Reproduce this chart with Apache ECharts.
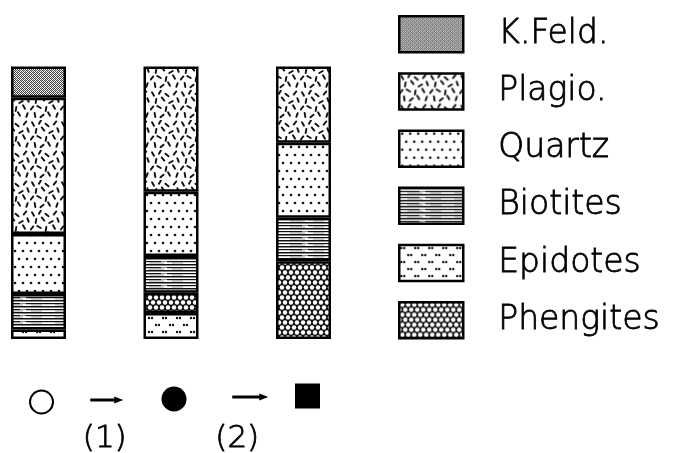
<!DOCTYPE html>
<html>
<head>
<meta charset="utf-8">
<script src="https://cdn.jsdelivr.net/npm/echarts@6/dist/echarts.min.js"></script>
<style>
  html, body { margin: 0; padding: 0; background: #fff; }
  #chart { width: 681px; height: 453px; }
</style>
</head>
<body>
<div id="chart"></div>
<script>
// Three samples along the metamorphic path: ○ → (1) → ● → (2) → ■
const categories = ['○', '●', '■'];
const stepLabels = ['(1)', '(2)'];

// Modal composition, percent of each column (stacked from the bottom)
const epidotes  = [3.5, 9.5, null];
const phengites = [null, 7.5, 28.5];
const biotites  = [13, 13.5, 16];
const quartz    = [22, 23.5, 27.5];
const plagio    = [50, 46, 28];
const kfeld     = [11.5, null, null];

const legendOrder = ['K.Feld.', 'Plagio.', 'Quartz', 'Biotites', 'Epidotes', 'Phengites'];

const FONT = "'DejaVu Sans ExtraLight', 'DejaVu Sans', sans-serif";

// ---------- hatch textures ----------
function tile(w, h, draw) {
  const c = document.createElement('canvas');
  c.width = w; c.height = h;
  const g = c.getContext('2d');
  g.fillStyle = '#fff';
  g.fillRect(0, 0, w, h);
  draw(g);
  return { image: c, repeat: 'repeat' };
}

// fine grey stipple
const texKFeld = tile(4, 4, g => {
  g.fillStyle = '#444';
  [[0,0],[2,0],[1,1],[3,1],[0,2],[2,2],[1,3],[3,3]].forEach(p => g.fillRect(p[0], p[1], 1, 1));
  g.fillStyle = '#bbb';
  g.fillRect(1, 0, 1, 1); g.fillRect(3, 2, 1, 1);
});

// short dashes in many directions
const texPlagio = tile(30, 30, g => {
  const dashes = [
    [3,4,60],[10,2,120],[17,5,40],[25,3,130],[6,11,100],[13,9,50],[21,12,150],[28,10,70],
    [2,18,130],[9,17,30],[16,19,100],[24,17,60],[5,25,80],[12,26,140],[19,24,60],[27,25,110]
  ];
  g.strokeStyle = '#111';
  g.lineWidth = 1.9;
  g.lineCap = 'round';
  dashes.forEach(([x, y, a]) => {
    const r = a * Math.PI / 180, dx = Math.cos(r) * 2, dy = Math.sin(r) * 2;
    g.beginPath(); g.moveTo(x - dx, y - dy); g.lineTo(x + dx, y + dy); g.stroke();
  });
});

// sparse staggered dots
const texQuartz = tile(16, 16, g => {
  g.fillStyle = '#111';
  [[3,3],[11,3],[7,11],[15,11],[-1,11]].forEach(([x, y]) => { g.beginPath(); g.arc(x, y, 1.3, 0, 7); g.fill(); });
});

// dense horizontal streaks
const texBiotites = tile(47, 6, g => {
  g.fillStyle = '#111';
  g.fillRect(0, 0, 47, 1.5);
  g.fillRect(0, 3, 20, 1.2);
  g.fillRect(26, 3, 21, 1.2);
  g.fillStyle = '#888';
  g.fillRect(20, 3, 6, 1);
  g.fillRect(8, 4.6, 15, 0.8);
  g.fillRect(31, 4.6, 11, 0.8);
});

// paired dots in staggered rows
const texEpidotes = tile(14, 14, g => {
  g.fillStyle = '#111';
  [[2,3],[5,3],[9,10],[12,10]].forEach(([x, y]) => { g.beginPath(); g.arc(x, y, 1.2, 0, 7); g.fill(); });
});

// honeycomb of white cells on black
const texPhengites = (function () {
  const c = document.createElement('canvas');
  c.width = 6; c.height = 10;
  const g = c.getContext('2d');
  g.fillStyle = '#111';
  g.fillRect(0, 0, 6, 10);
  g.fillStyle = '#fff';
  [[3,2.5],[0,7.5],[6,7.5]].forEach(([x, y]) => { g.beginPath(); g.arc(x, y, 2.2, 0, 7); g.fill(); });
  return { image: c, repeat: 'repeat' };
})();

// ---------- chart ----------
const chart = echarts.init(document.getElementById('chart'), null, { renderer: 'canvas' });

function barSeries(name, data, tex) {
  return {
    name, type: 'bar', stack: 'mode', data,
    barWidth: 55, clip: false, silent: true,
    xAxisIndex: 0, yAxisIndex: 0,
    itemStyle: { color: tex, borderColor: '#000', borderWidth: 2.5 },
    emphasis: { disabled: true }
  };
}

const option = {
  animation: false,
  backgroundColor: '#fff',
  grid: [
    { left: 38.5, right: 377.5, top: 66.5, height: 272.5 },
    { left: 38.5, right: 377.5, top: 380, height: 40 }
  ],
  xAxis: [
    { type: 'category', data: categories, boundaryGap: false, gridIndex: 0,
      axisLine: { show: false }, axisTick: { show: false }, axisLabel: { show: false }, splitLine: { show: false } },
    { type: 'category', data: categories, boundaryGap: false, gridIndex: 1, show: false }
  ],
  yAxis: [
    { type: 'value', min: 0, max: 100, gridIndex: 0, show: false },
    { type: 'value', min: 0, max: 1, gridIndex: 1, show: false }
  ],
  legend: {
    data: legendOrder,
    orient: 'vertical',
    left: 398, top: 15, padding: 0,
    itemWidth: 64, itemHeight: 36, itemGap: 18.7,
    selectedMode: false,
    icon: 'rect',
    itemStyle: { borderColor: '#000', borderWidth: 2.5 },
    textStyle: {
      fontFamily: FONT, fontWeight: 200, fontSize: 33, color: '#000', lineHeight: 36,
      textBorderColor: '#000', textBorderWidth: 0.8,
      padding: [0, 0, 0, 30]
    }
  },
  series: [
    barSeries('Epidotes', epidotes, texEpidotes),
    barSeries('Phengites', phengites, texPhengites),
    barSeries('Biotites', biotites, texBiotites),
    barSeries('Quartz', quartz, texQuartz),
    barSeries('Plagio.', plagio, texPlagio),
    barSeries('K.Feld.', kfeld, texKFeld),
    {
      type: 'scatter', xAxisIndex: 1, yAxisIndex: 1, silent: true, clip: false,
      data: [
        { value: [0, 0.5], symbol: 'circle', symbolSize: 23, symbolOffset: [3, 2],
          itemStyle: { color: '#fff', borderColor: '#000', borderWidth: 2, opacity: 1 } },
        { value: [1, 0.5], symbol: 'circle', symbolSize: 25, symbolOffset: [3, -1],
          itemStyle: { color: '#000', opacity: 1 } },
        { value: [2, 0.5], symbol: 'rect', symbolSize: 25, symbolOffset: [4, -4],
          itemStyle: { color: '#000', opacity: 1 } }
      ]
    }
  ]
};
chart.setOption(option);

// arrows and step numbers between the sample symbols
const pts = categories.map((c, i) => chart.convertToPixel({ xAxisIndex: 1, yAxisIndex: 1 }, [i, 0.5]));
const arrowShift = [2, 13];
const arrowLen = [33, 36];
const arrowDy = [0, -3];
const graphics = [];
stepLabels.forEach((lab, i) => {
  const mx = (pts[i][0] + pts[i + 1][0]) / 2;
  const y = pts[i][1] + arrowDy[i];
  const x0 = mx + arrowShift[i] - arrowLen[i] / 2, x1 = mx + arrowShift[i] + arrowLen[i] / 2;
  graphics.push({
    type: 'line', silent: true,
    shape: { x1: x0, y1: y, x2: x1 - 6, y2: y },
    style: { stroke: '#000', lineWidth: 3 }
  });
  graphics.push({
    type: 'polygon', silent: true,
    shape: { points: [[x1 - 9, y - 3.5], [x1, y], [x1 - 9, y + 3.5]] },
    style: { fill: '#000' }
  });
  graphics.push({
    type: 'text', silent: true,
    x: mx, y: 439,
    style: {
      text: lab, font: '200 31px ' + FONT, fill: '#000', align: 'center', verticalAlign: 'middle',
      stroke: '#000', lineWidth: 0.8
    }
  });
});
chart.setOption({ graphic: graphics });
</script>
</body>
</html>
